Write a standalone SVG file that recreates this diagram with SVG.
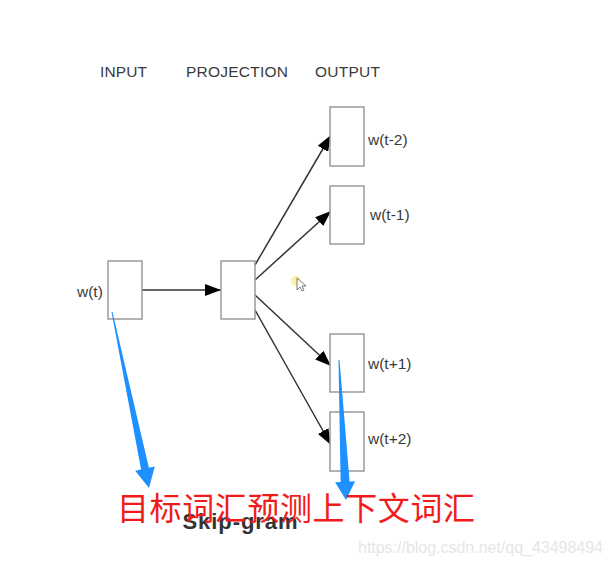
<svg xmlns="http://www.w3.org/2000/svg" width="611" height="564" viewBox="0 0 611 564">
<defs>
<style>
.box{fill:#fff;stroke:#9a9a9a;stroke-width:1.5}
.lbl{font-family:"Liberation Sans",Arial,sans-serif;font-size:15.5px;fill:#3a3a3a}
.edge{stroke:#333;stroke-width:1.5;fill:none}
.blue{fill:#1e90ff}
</style>
<marker id="ah" viewBox="0 0 16 12" refX="16" refY="6" markerWidth="16" markerHeight="12" markerUnits="userSpaceOnUse" orient="auto">
<path d="M0,0 L16,6 L0,12 Z" fill="#000"/>
</marker>
</defs>
<rect width="611" height="564" fill="#fff"/>
<g id="headers">
<text class="lbl" x="100" y="77" textLength="47">INPUT</text>
<text class="lbl" x="186" y="77" textLength="102">PROJECTION</text>
<text class="lbl" x="315" y="77" textLength="65">OUTPUT</text>
</g>
<g id="connectors">
<line class="edge" x1="142" y1="290" x2="221" y2="290" marker-end="url(#ah)"/>
<line class="edge" x1="255" y1="265" x2="331" y2="135" marker-end="url(#ah)"/>
<line class="edge" x1="255" y1="280" x2="331" y2="211" marker-end="url(#ah)"/>
<line class="edge" x1="255" y1="295" x2="331" y2="366" marker-end="url(#ah)"/>
<line class="edge" x1="255" y1="310" x2="331" y2="445" marker-end="url(#ah)"/>
</g>
<g id="input">
<rect class="box" x="108" y="261" width="34" height="58"/>
<text class="lbl" x="77" y="297">w(t)</text>
</g>
<g id="projection">
<rect class="box" x="221" y="261" width="34" height="58"/>
</g>
<g id="out1">
<rect class="box" x="330" y="107" width="34" height="59"/>
<text class="lbl" x="368" y="145">w(t-2)</text>
</g>
<g id="out2">
<rect class="box" x="330" y="186" width="34" height="58"/>
<text class="lbl" x="370" y="220">w(t-1)</text>
</g>
<g id="out3">
<rect class="box" x="330" y="334" width="34" height="58"/>
<text class="lbl" x="368" y="369">w(t+1)</text>
</g>
<g id="out4">
<rect class="box" x="330" y="412" width="34" height="59"/>
<text class="lbl" x="368" y="444">w(t+2)</text>
</g>
<g id="cursor">
<circle cx="296" cy="281" r="5" fill="#f5ef90" opacity="0.8"/>
<path d="M297,278 L297,290 L300,287 L302,291 L304,290 L302,286 L306,286 Z" fill="#fff" stroke="#555" stroke-width="0.8"/>
</g>
<text x="240" y="529" text-anchor="middle" font-family="Liberation Sans,Arial,sans-serif" font-weight="bold" font-size="22" fill="#333" textLength="115">Skip-gram</text>
<g id="annotations">
<polygon class="blue" points="111.5,312.1 112.5,311.9 148.9,467.8 154.8,466.5 149,488 135.2,470.7 141.1,469.4"/>
<polygon class="blue" points="338.5,360 339.5,360 349.6,481.6 355.1,481.3 346,500 335.1,482.3 340.6,482"/>
<text x="117" y="520" font-family="Noto Sans CJK SC,sans-serif" font-size="32" fill="#f21b1b" textLength="358">目标词汇预测上下文词汇</text>
</g>
<text x="358" y="553" font-family="Liberation Sans,Arial,sans-serif" font-size="16" fill="#e6e6e6" textLength="245">https://blog.csdn.net/qq_43498494</text>
</svg>
